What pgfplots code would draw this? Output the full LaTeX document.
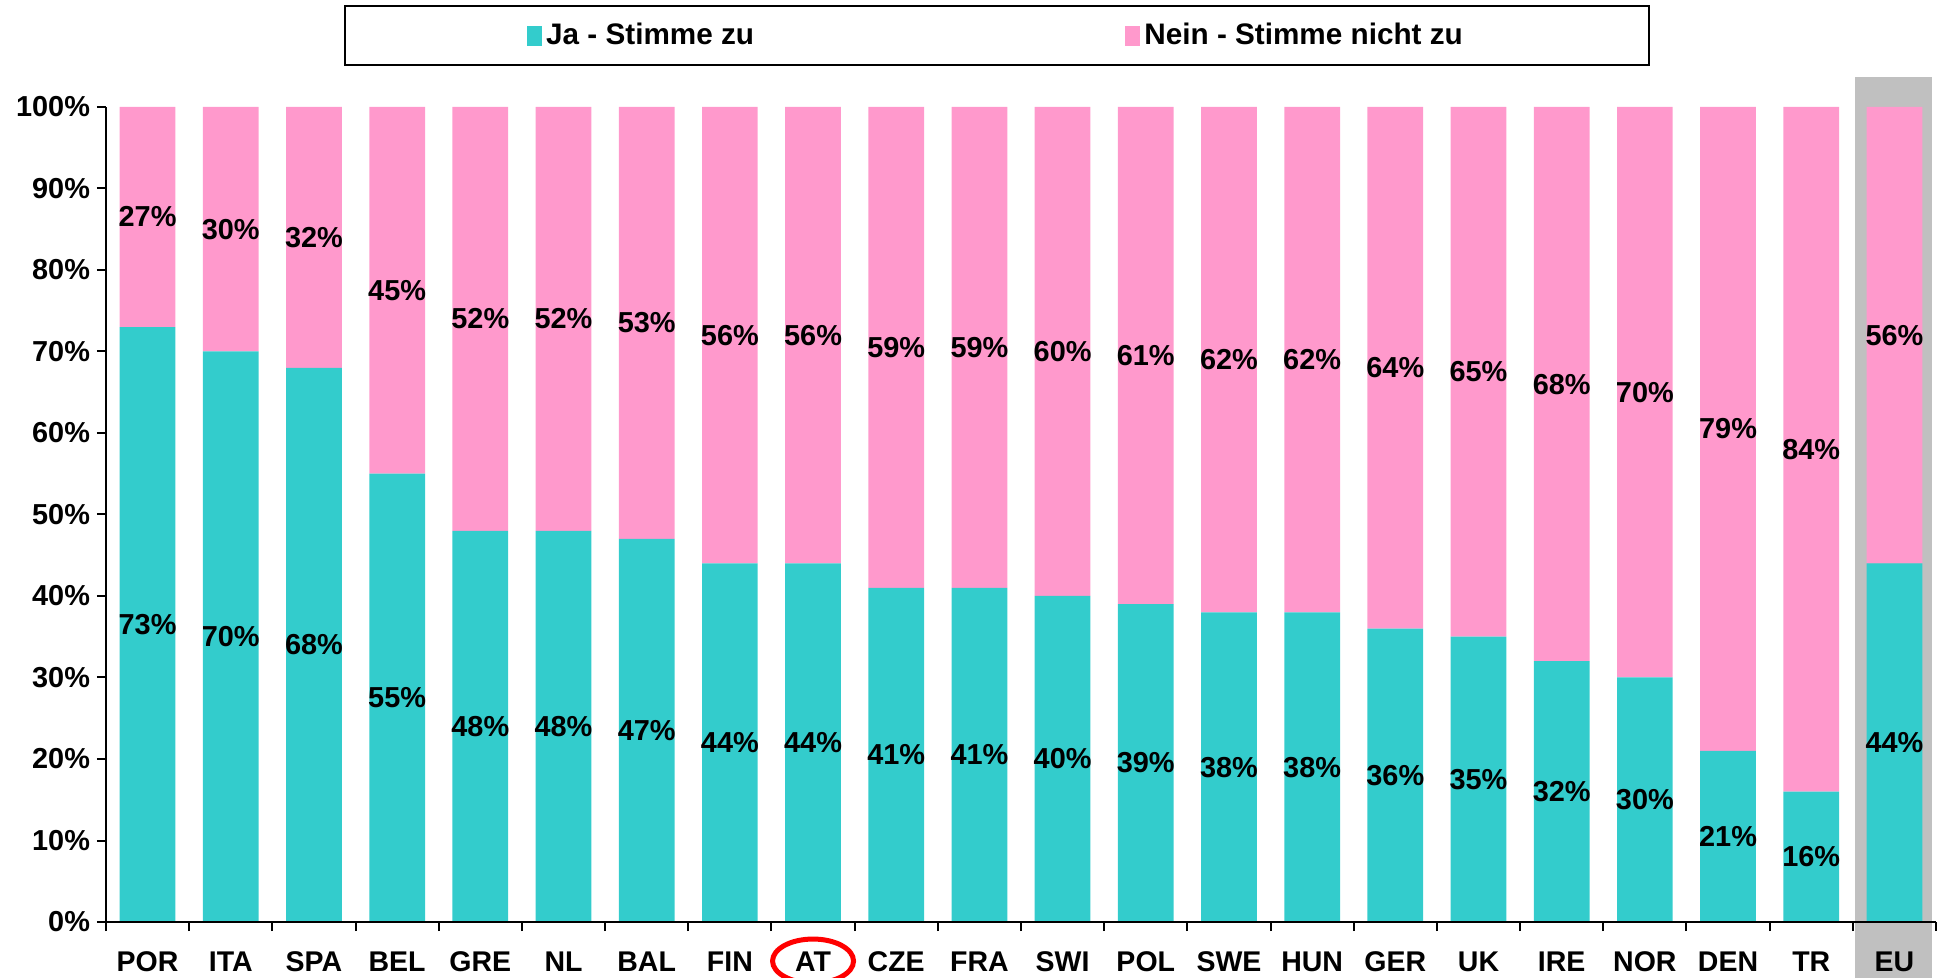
\documentclass[border=0pt]{standalone}
\usepackage{pgfplots}
\usepackage{pgfplotstable}
\pgfplotsset{compat=1.18}
\usepackage{fontspec}
\setmainfont{Liberation Sans}
\definecolor{ja}{RGB}{51,204,204}
\definecolor{nein}{RGB}{255,153,204}
\definecolor{eugray}{RGB}{192,192,192}
% x: category index; ja, nein: shares in %; cja, cnein: label heights (middle of each segment)
\pgfplotstableread{
x ja nein cja cnein
0 73 27 36.5 86.5
1 70 30 35 85
2 68 32 34 84
3 55 45 27.5 77.5
4 48 52 24 74
5 48 52 24 74
6 47 53 23.5 73.5
7 44 56 22 72
8 44 56 22 72
9 41 59 20.5 70.5
10 41 59 20.5 70.5
11 40 60 20 70
12 39 61 19.5 69.5
13 38 62 19 69
14 38 62 19 69
15 36 64 18 68
16 35 65 17.5 67.5
17 32 68 16 66
18 30 70 15 65
19 21 79 10.5 60.5
20 16 84 8 58
21 44 56 22 72
}\data
\begin{document}
\begin{tikzpicture}
% background highlight of the EU category
\begin{axis}[
  at={(0,0)}, anchor=south west,
  width=915bp, height=407.5bp, scale only axis,
  xmin=-0.5, xmax=21.5, ymin=0, ymax=100,
  hide axis, clip=false,
]
\fill[eugray] (axis cs:20.53,-6.9) rectangle (axis cs:21.45,103.7);
\end{axis}
\begin{axis}[
  at={(0,0)}, anchor=south west,
  width=915bp, height=407.5bp, scale only axis,
  axis on top,
  ybar stacked, bar width=0.67,
  xmin=-0.5, xmax=21.5, ymin=0, ymax=100,
  clip=false,
  axis x line*=bottom, axis y line*=left,
  axis line style={line width=1bp},
  every tick/.style={black, line width=1bp},
  tick align=outside, major tick length=4.5bp,
  xtick={-0.5,0.5,...,21.5},
  x tick label as interval,
  xticklabels={POR,ITA,SPA,BEL,GRE,NL,BAL,FIN,AT,CZE,FRA,SWI,POL,SWE,HUN,GER,UK,IRE,NOR,DEN,TR,EU},
  ytick={0,10,...,100},
  yticklabels={0\%,10\%,20\%,30\%,40\%,50\%,60\%,70\%,80\%,90\%,100\%},
  xticklabel style={font=\bfseries\fontsize{14.3}{16}\selectfont, yshift=-7bp},
  yticklabel style={font=\bfseries\fontsize{14.5}{16}\selectfont},
  legend columns=2,
  legend style={at={(0.4869,1.0877)}, anchor=center, draw=black, line width=1bp,
    font=\bfseries\fontsize{14.9}{16}\selectfont, inner xsep=91bp, inner ysep=6.85bp,
    /tikz/every even column/.append style={column sep=183.7bp}},
  legend image code/.code={\fill[#1] (0bp,-5bp) rectangle (7.5bp,5bp);},
]
\addplot[fill=ja, draw=none] table[x=x, y=ja] {\data};
\addlegendentry{Ja - Stimme zu}
\addplot[fill=nein, draw=none] table[x=x, y=nein] {\data};
\addlegendentry{Nein - Stimme nicht zu}
\draw[red, line width=2.5bp, overlay] (axis cs:8,-4.79) ellipse [x radius=20.25bp, y radius=11bp];
\end{axis}
\begin{axis}[
  at={(0,0)}, anchor=south west,
  width=915bp, height=407.5bp, scale only axis,
  xmin=-0.5, xmax=21.5, ymin=0, ymax=100,
  hide axis, clip=false,
  /pgf/number format/assume math mode=true,
  point meta=explicit,
  nodes near coords={\pgfmathprintnumber{\pgfplotspointmeta}\%},
  every node near coord/.append style={font=\bfseries\fontsize{14.5}{16}\selectfont, anchor=center, inner sep=0pt},
]
\addplot[draw=none, mark=none] table[x=x, y=cja, meta=ja] {\data};
\addplot[draw=none, mark=none] table[x=x, y=cnein, meta=nein] {\data};
\end{axis}
\pgfresetboundingbox
\path[use as bounding box] (-53bp,-28bp) rectangle (917.5bp,461bp);
\end{tikzpicture}
\end{document}
